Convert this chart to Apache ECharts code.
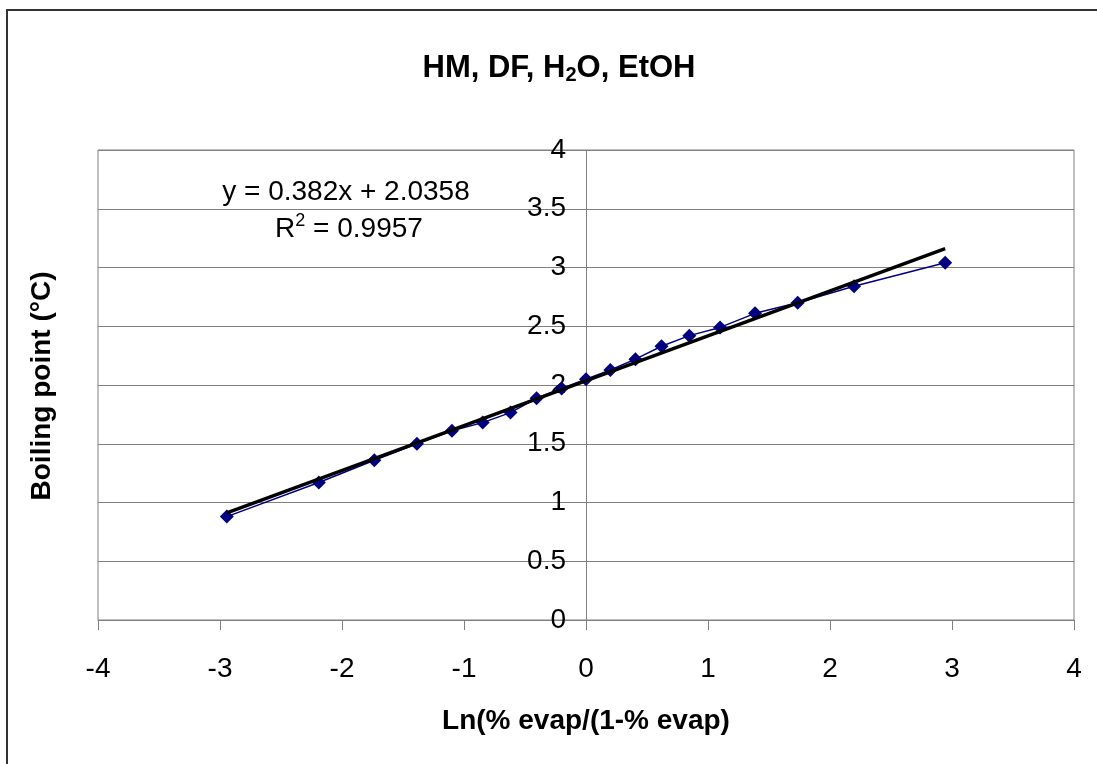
<!DOCTYPE html>
<html lang="en">

<head>
    <meta charset="UTF-8">
    <title>HM, DF, H2O, EtOH</title>
    <script src="https://cdn.jsdelivr.net/npm/echarts@6/dist/echarts.min.js"></script>
    <style>
        html, body { margin: 0; padding: 0; background: #fff; }
    </style>
</head>

<body>
    <div id="chart1" style="width: 1097px;height: 764px;"></div>
    <script type="text/javascript">
        // measured points: x = Ln(%evap/(1-%evap)), y = boiling point
        var xVals = [-2.944, -2.19, -1.735, -1.386, -1.099, -0.847, -0.619, -0.405, -0.2, 0,
            0.2, 0.405, 0.619, 0.847, 1.099, 1.386, 1.735, 2.197, 2.944];
        var yVals = [0.88, 1.17, 1.36, 1.50, 1.61, 1.68, 1.765, 1.887, 1.97, 2.05,
            2.128, 2.22, 2.33, 2.42, 2.49, 2.61, 2.70, 2.84, 3.04];

        // linear trend line from the reference
        var slope = 0.382;
        var intercept = 2.0358;
        var r2 = '0.9957';

        var xTicks = [-4, 4, 1];    // min, max, interval
        var yTicks = [0, 4, 0.5];

        var pts = xVals.map(function (x, i) { return [x, yVals[i]]; });
        var xLo = Math.min.apply(null, xVals), xHi = Math.max.apply(null, xVals);
        var trend = [[xLo, slope * xLo + intercept], [xHi, slope * xHi + intercept]];

        var gridLeft = 98, gridRight = 23;
        var chartW = 1097;
        // y axis sits at x = 0, move it there from the left edge
        var plotW = chartW - gridLeft - gridRight;
        var yOffset = -plotW * (0 - xTicks[0]) / (xTicks[1] - xTicks[0]);

        var font = '"Liberation Sans", Arial, sans-serif';
        var chart1 = echarts.init(document.getElementById("chart1"));

        var option = {
            backgroundColor: '#fff',
            animation: false,
            textStyle: { fontFamily: font },
            grid: {
                left: gridLeft,
                right: gridRight,
                top: 150,
                bottom: 144,
                show: true,
                borderColor: '#808080',
                borderWidth: 1
            },
            xAxis: {
                type: 'value',
                min: xTicks[0],
                max: xTicks[1],
                interval: xTicks[2],
                name: 'Ln(% evap/(1-% evap)',
                nameLocation: 'middle',
                nameGap: 87,
                nameTextStyle: { fontFamily: font, fontSize: 28, fontWeight: 'bold', color: '#000' },
                axisLine: { onZero: false, lineStyle: { color: '#808080', width: 1 } },
                axisTick: { show: true, length: 10, lineStyle: { color: '#808080' } },
                axisLabel: { fontFamily: font, fontSize: 28, color: '#000', margin: 35 },
                splitLine: { show: false }
            },
            yAxis: {
                type: 'value',
                min: yTicks[0],
                max: yTicks[1],
                interval: yTicks[2],
                position: 'left',
                offset: yOffset,
                axisLine: { show: true, onZero: false, lineStyle: { color: '#808080', width: 1 } },
                axisTick: { show: true, length: 10, lineStyle: { color: '#808080' } },
                axisLabel: { fontFamily: font, fontSize: 28, color: '#000', margin: 20 },
                splitLine: { show: true, lineStyle: { color: '#808080', width: 1 } }
            },
            series: [{
                name: 'data',
                type: 'line',
                data: pts,
                symbol: 'diamond',
                symbolSize: 14,
                itemStyle: { color: '#000080' },
                lineStyle: { color: '#000080', width: 1.5 },
                z: 2
            }, {
                name: 'trend',
                type: 'line',
                data: trend,
                symbol: 'none',
                lineStyle: { color: '#000', width: 3.5 },
                z: 3
            }],
            graphic: [{
                type: 'rect',
                shape: { x: 7, y: 10, width: 1200, height: 1000 },
                style: { fill: 'none', stroke: '#333', lineWidth: 2 },
                silent: true
            }, {
                type: 'text',
                x: 559, y: 68,
                style: {
                    text: '{b|HM, DF, H}{s|2}{b|O, EtOH}',
                    align: 'center',
                    verticalAlign: 'middle',
                    rich: {
                        b: { fontFamily: font, fontSize: 31, fontWeight: 'bold', fill: '#000' },
                        s: { fontFamily: font, fontSize: 20, fontWeight: 'bold', fill: '#000', padding: [14, 0, 0, 0] }
                    }
                }
            }, {
                type: 'text',
                x: 346, y: 192,
                style: {
                    text: 'y = ' + slope + 'x + ' + intercept,
                    align: 'center',
                    verticalAlign: 'middle',
                    font: '28px ' + font,
                    fill: '#000'
                }
            }, {
                type: 'text',
                x: 349, y: 229,
                style: {
                    text: '{n|R}{p|2}{n| = ' + r2 + '}',
                    align: 'center',
                    verticalAlign: 'middle',
                    rich: {
                        n: { fontFamily: font, fontSize: 28, fill: '#000' },
                        p: { fontFamily: font, fontSize: 18, fill: '#000', padding: [0, 0, 16, 0] }
                    }
                }
            }, {
                type: 'text',
                x: 42, y: 386,
                rotation: Math.PI / 2,
                style: {
                    text: 'Boiling point (°C)',
                    align: 'center',
                    verticalAlign: 'middle',
                    font: 'bold 28px ' + font,
                    fill: '#000'
                }
            }]
        };

        chart1.setOption(option);
    </script>
</body>

</html>
